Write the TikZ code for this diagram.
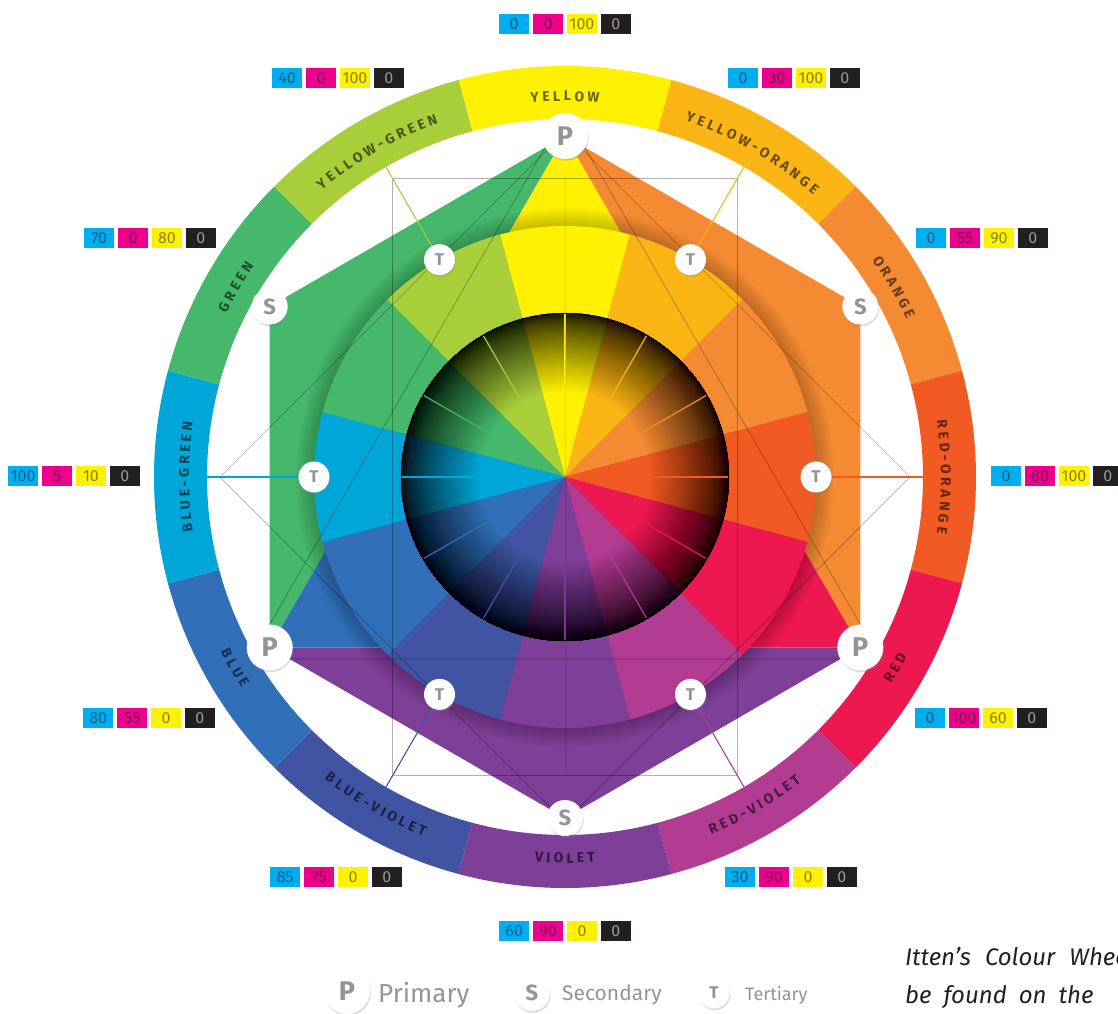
\documentclass[tikz,border=0pt]{standalone}
\usepackage{fontspec}
\setmainfont{Fira Sans}
\usepackage{tikz}
\usetikzlibrary{positioning, shadows, decorations.text}

\definecolor{cY}{HTML}{FFF100}
\definecolor{cYO}{HTML}{FBB615}
\definecolor{cO}{HTML}{F48B33}
\definecolor{cRO}{HTML}{F15A22}
\definecolor{cR}{HTML}{ED1850}
\definecolor{cRV}{HTML}{B13C92}
\definecolor{cV}{HTML}{7D3F97}
\definecolor{cBV}{HTML}{4054A3}
\definecolor{cB}{HTML}{3170B8}
\definecolor{cBG}{HTML}{00A6D7}
\definecolor{cG}{HTML}{45B86B}
\definecolor{cYG}{HTML}{A8CE3A}
\definecolor{cmC}{HTML}{00AEEF}
\definecolor{cmM}{HTML}{EC008C}
\definecolor{cmY}{HTML}{FFF200}
\definecolor{cmK}{HTML}{231F20}
\definecolor{cmCt}{HTML}{0B5F86}
\definecolor{cmMt}{HTML}{7E0F4E}
\definecolor{cmYt}{HTML}{8A8300}
\definecolor{cmKt}{HTML}{9A9A9C}
\definecolor{markgray}{HTML}{939498}
\definecolor{capblack}{HTML}{231F20}

\newcommand{\ringfont}{\fontsize{14}{14}\selectfont\bfseries}

% cmyk swatches: name, left x, y, c, m, y, k
\newcommand{\cmykrow}[7]{%
    \node[cbox, fill=cmC, text=cmCt, anchor=west] (#1c) at (#2,#3) {#4};
    \node[cbox, fill=cmM, text=cmMt, right=3.5pt of #1c] (#1m) {#5};
    \node[cbox, fill=cmY, text=cmYt, right=3.5pt of #1m] (#1y) {#6};
    \node[cbox, fill=cmK, text=cmKt, right=3.5pt of #1y] (#1k) {#7};
}

\begin{document}
\begin{tikzpicture}[x=1pt, y=1pt,
    pnode/.style={circle, fill=white, inner sep=0pt, minimum size=46pt, text=markgray,
        font=\fontsize{27}{27}\selectfont\bfseries,
        drop shadow={shadow xshift=.8pt, shadow yshift=-1.8pt, opacity=.28}},
    snode/.style={pnode, minimum size=36pt, font=\fontsize{22}{22}\selectfont\bfseries},
    tnode/.style={pnode, minimum size=31pt, font=\fontsize{17}{17}\selectfont\bfseries},
    guideline/.style={black, opacity=.3, line width=.7pt},
    tline/.style={line width=1.1pt},
    cbox/.style={minimum width=30pt, minimum height=20pt, inner sep=0pt, font=\fontsize{16}{16}\selectfont},
    legtext/.style={text=markgray, inner sep=0pt, anchor=base west}]
    \useasboundingbox (-565,-536) rectangle (553,477);
    \clip (-565,-536) rectangle (553,477);

    % 1. outer ring with names
    \foreach \ang/\col/\lbl in {90/cY/Y E L L O W, 60/cYO/Y E L L O W - O R A N G E,
        30/cO/O R A N G E, 0/cRO/R E D - O R A N G E, -30/cR/R E D,
        -60/cRV/R E D - V I O L E T, -90/cV/V I O L E T, -120/cBV/B L U E - V I O L E T,
        -150/cB/B L U E, 180/cBG/B L U E - G R E E N, 150/cG/G R E E N,
        120/cYG/Y E L L O W - G R E E N} {
        \fill[\col] (\ang-15:358) arc[start angle=\ang-15, end angle=\ang+15, radius=358]
            -- (\ang+15:411) arc[start angle=\ang+15, end angle=\ang-15, radius=411] -- cycle;
        \colorlet{lblcol}{\col!42!black}
        \ifnum\ang<0
            \path[decorate, decoration={text along path, text align=center, text color=lblcol,
                text/.expanded={|\noexpand\ringfont|\lbl}}]
                (\ang-15:386) arc[start angle=\ang-15, end angle=\ang+15, radius=386];
        \else
            \path[decorate, decoration={text along path, text align=center, text color=lblcol,
                text/.expanded={|\noexpand\ringfont|\lbl}}]
                (\ang+15:376) arc[start angle=\ang+15, end angle=\ang-15, radius=376];
        \fi
    }

    % 2. primary and secondary points
    \coordinate (Y) at (90:341);
    \coordinate (B) at (210:341);
    \coordinate (R) at (330:341);
    \coordinate (G) at (150:341);
    \coordinate (O) at (30:341);
    \coordinate (V) at (270:341);
    \coordinate (mYB) at (150:170.5);
    \coordinate (mYR) at (30:170.5);
    \coordinate (mBR) at (270:170.5);

    % secondary triangles
    \fill[cG] (Y) -- (G) -- (B) -- cycle;
    \fill[cO] (Y) -- (O) -- (R) -- cycle;
    \fill[cV] (B) -- (V) -- (R) -- cycle;
    % primary triangle
    \fill[cY] (Y) -- (mYR) -- (0,0) -- (mYB) -- cycle;
    \fill[cR] (R) -- (mYR) -- (0,0) -- (mBR) -- cycle;
    \fill[cB] (B) -- (mYB) -- (0,0) -- (mBR) -- cycle;

    % 3. twelve part wheel
    \foreach \k in {1,...,9}
        \fill[black, opacity=.025] (0,0) circle[radius=251+2*\k];
    \foreach \ang/\col in {90/cY, 60/cYO, 30/cO, 0/cRO, -30/cR, -60/cRV, -90/cV,
        -120/cBV, -150/cB, 180/cBG, 150/cG, 120/cYG} {
        \fill[\col] (0,0) -- (\ang-15:251) arc[start angle=\ang-15, end angle=\ang+15, radius=251] -- cycle;
    }

    % 4. dark inner disc, rings get denser towards the rim
    \foreach \k in {0,...,115}
        \fill[black, opacity=.025, even odd rule] (0,0) circle[radius=164]
            circle[radius={164-78*(1-\k/116)^4}];
    \foreach \ang/\col in {90/cY, 60/cYO, 30/cO, 0/cRO, -30/cR, -60/cRV, -90/cV,
        -120/cBV, -150/cB, 180/cBG, 150/cG, 120/cYG} {
        \draw[\col, line width=1.2pt] (\ang:40) -- (\ang:163);
    }
    \draw[black, opacity=.2, line width=.6pt] (0,0) circle[radius=164];

    % 5. harmony lines
    \coordinate (q0) at (0:345);
    \coordinate (q90) at (90:345);
    \coordinate (q180) at (180:345);
    \coordinate (q270) at (270:345);
    \coordinate (r60) at (60:345);
    \coordinate (r120) at (120:345);
    \coordinate (r240) at (240:345);
    \coordinate (r300) at (300:345);
    \coordinate (k90) at (90:364);
    \coordinate (k210) at (210:364);
    \coordinate (k330) at (330:364);
    \coordinate (rtop) at (0,299);
    \coordinate (rbot) at (0,-299);
    \draw[guideline] (q0) -- (q90) -- (q180) -- (q270) -- cycle;
    \draw[guideline] (r60) -- (r120) -- (r240) -- (r300) -- cycle;
    \draw[guideline] (k90) -- (k210) -- (k330) -- cycle;
    \draw[guideline, opacity=.12] (rtop) -- (rbot);

    % 6. markers
    \node[pnode] (pY) at (Y) {P};
    \node[pnode] (pB) at (B) {P};
    \node[pnode] (pR) at (R) {P};
    \node[snode] (sG) at (G) {S};
    \node[snode] (sO) at (O) {S};
    \node[snode] (sV) at (V) {S};
    \node[tnode] (tRO) at (0:251) {T};
    \node[tnode] (tYO) at (60:251) {T};
    \node[tnode] (tYG) at (120:251) {T};
    \node[tnode] (tBG) at (180:251) {T};
    \node[tnode] (tBV) at (240:251) {T};
    \node[tnode] (tRV) at (300:251) {T};

    \coordinate (eRO) at (0:358);
    \coordinate (eYO) at (60:358);
    \coordinate (eYG) at (120:358);
    \coordinate (eBG) at (180:358);
    \coordinate (eBV) at (240:358);
    \coordinate (eRV) at (300:358);
    \draw[tline, cRO] (tRO) -- (eRO);
    \draw[tline, cYO] (tYO) -- (eYO);
    \draw[tline, cYG] (tYG) -- (eYG);
    \draw[tline, cBG] (tBG) -- (eBG);
    \draw[tline, cBV] (tBV) -- (eBV);
    \draw[tline, cRV] (tRV) -- (eRV);

    % 7. cmyk values
    \cmykrow{yw}{-66}{453}{0}{0}{100}{0}
    \cmykrow{yo}{163}{399}{0}{30}{100}{0}
    \cmykrow{yg}{-293}{399}{40}{0}{100}{0}
    \cmykrow{gr}{-481}{239}{70}{0}{80}{0}
    \cmykrow{or}{351}{239}{0}{55}{90}{0}
    \cmykrow{bg}{-557}{1}{100}{5}{10}{0}
    \cmykrow{ro}{426}{1}{0}{80}{100}{0}
    \cmykrow{bl}{-482}{-241}{80}{55}{0}{0}
    \cmykrow{rd}{350}{-241}{0}{100}{60}{0}
    \cmykrow{bv}{-295}{-400}{85}{75}{0}{0}
    \cmykrow{rv}{160}{-400}{30}{90}{0}{0}
    \cmykrow{vi}{-66}{-454}{60}{90}{0}{0}

    % 8. legend
    \node[pnode] (lgP) at (-218,-514) {P};
    \node[legtext, font=\fontsize{26}{26}\selectfont] (lgPt) at (-187,-525) {Primary};
    \node[snode] (lgS) at (-33,-516) {S};
    \node[legtext, font=\fontsize{21}{21}\selectfont] (lgSt) at (-3,-523) {Secondary};
    \node[tnode] (lgT) at (149,-516) {T};
    \node[legtext, font=\fontsize{18}{18}\selectfont] (lgTt) at (180,-523) {Tertiary};

    % 9. caption
    \node[anchor=base west, inner sep=0pt, text=capblack, font=\fontsize{24}{24}\selectfont\itshape]
        (capA) at (340,-488) {\spaceskip=14pt Itten's Colour Wheel};
    \node[anchor=base west, inner sep=0pt, text=capblack, font=\fontsize{24}{24}\selectfont\itshape]
        (capB) at (340,-526) {\spaceskip=12pt be found on the};
\end{tikzpicture}
\end{document}
